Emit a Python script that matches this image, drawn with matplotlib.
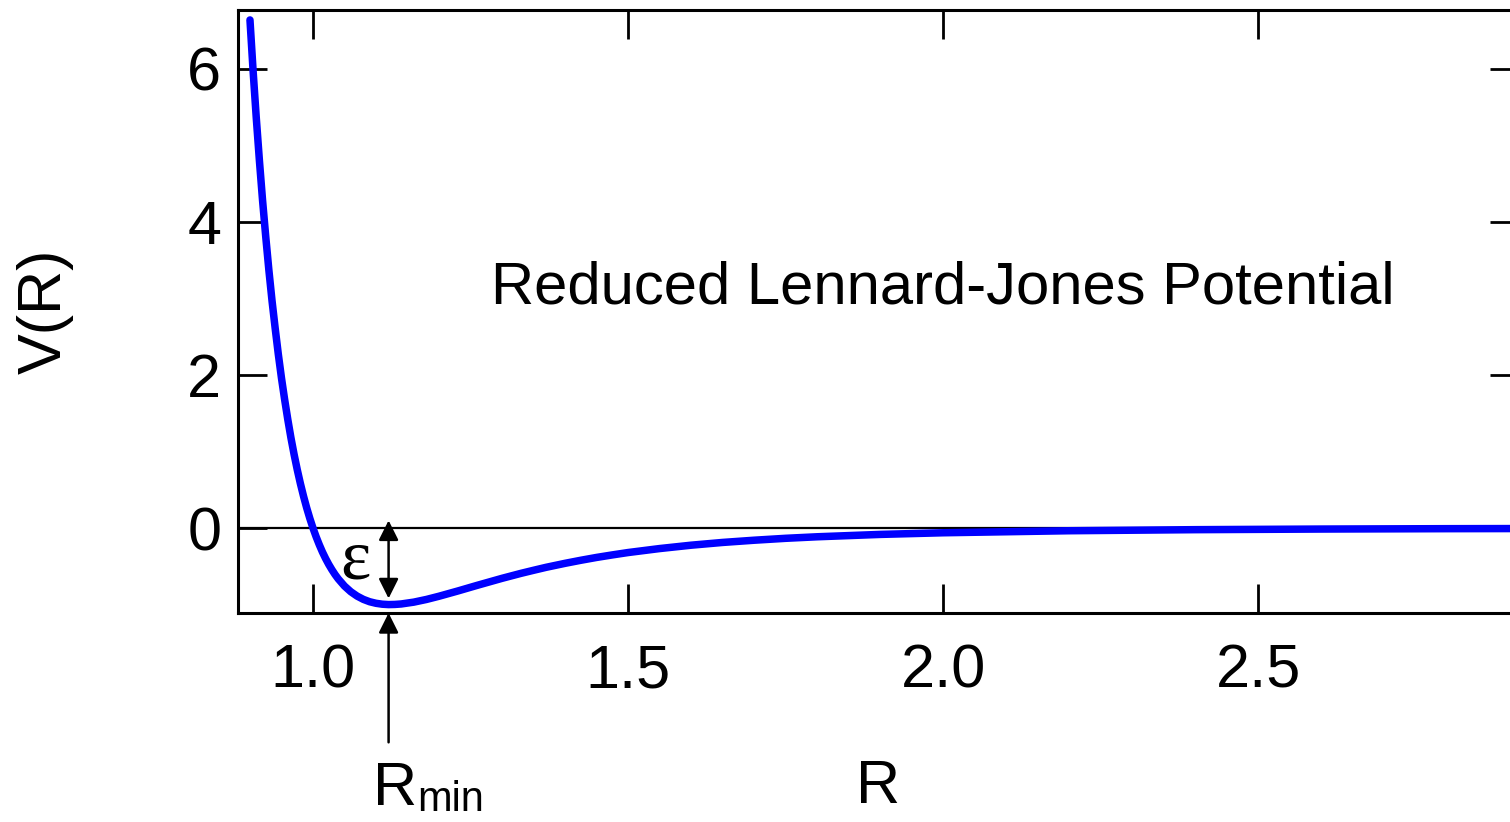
import matplotlib
matplotlib.use("Agg")
import matplotlib.pyplot as plt

plt.rcParams['font.family'] = ['Liberation Sans', 'DejaVu Sans']

# Curve
R = [0.900, 0.905, 0.910, 0.915, 0.920, 0.925, 0.930, 0.935, 0.940, 0.945,
     0.950, 0.955, 0.960, 0.965, 0.970, 0.975, 0.980, 0.985, 0.990, 0.995,
     1.000, 1.005, 1.010, 1.015, 1.020, 1.025, 1.030, 1.035, 1.040, 1.050,
     1.060, 1.070, 1.080, 1.090, 1.100, 1.110, 1.120, 1.130, 1.140, 1.160,
     1.180, 1.200, 1.230, 1.260, 1.300, 1.330, 1.350, 1.370, 1.400, 1.425,
     1.450, 1.475, 1.500, 1.550, 1.600, 1.650, 1.700, 1.750, 1.800, 1.900,
     2.000, 2.200, 2.400, 2.600, 2.800, 2.950]
V = [6.64, 5.97, 5.36, 4.80, 4.28, 3.81, 3.37, 2.97, 2.61, 2.27,
     1.96, 1.68, 1.42, 1.18, 0.963, 0.764, 0.582, 0.416, 0.264, 0.126,
     0.0, -0.114, -0.218, -0.313, -0.398, -0.475, -0.544, -0.607, -0.663, -0.758,
     -0.832, -0.889, -0.932, -0.963, -0.983, -0.995, -1.000, -0.998, -0.992, -0.968,
     -0.933, -0.891, -0.822, -0.750, -0.657, -0.592, -0.552, -0.513, -0.461, -0.421,
     -0.384, -0.351, -0.320, -0.268, -0.224, -0.188, -0.159, -0.134, -0.114, -0.083,
     -0.0615, -0.035, -0.021, -0.013, -0.008, -0.006]

x_ticks = [1.0, 1.5, 2.0, 2.5]
x_ticklabels = ["1.0", "1.5", "2.0", "2.5"]
y_ticks = [0, 2, 4, 6]
y_ticklabels = ["0", "2", "4", "6"]

R_min = 1.12
eps_depth = -1.0

title_text = "Reduced Lennard-Jones Potential"

fig = plt.figure(figsize=(15.10, 8.22), dpi=100)
ax = fig.add_axes([238/1510, 1-613/822, (1519-238)/1510, (613-10)/822])

ax.set_xlim(0.881, 2.914)
ax.set_ylim(-1.11, 6.77)

ax.axhline(0, color='black', lw=1.6, zorder=1)
ax.plot(R, V, color='#0000FF', lw=5.4, solid_capstyle='round',
        solid_joinstyle='round', zorder=3)

ax.set_xticks(x_ticks)
ax.set_xticklabels(x_ticklabels)
ax.set_yticks(y_ticks)
ax.set_yticklabels(y_ticklabels)
ax.tick_params(direction='in', length=21, width=2, labelsize=44,
               top=True, right=True, pad=12)
ax.tick_params(axis='x', pad=22)
for s in ax.spines.values():
    s.set_linewidth(2.2)

ax.set_xlabel("R", fontsize=44, labelpad=42)
ax.set_ylabel("V(R)", fontsize=44, labelpad=82)

ax.text(2.0, 2.94, title_text, fontsize=43, ha='center', va='baseline')

# epsilon double arrow
ax.annotate('', xy=(R_min, 0.1), xytext=(R_min, eps_depth + 0.08),
            arrowprops=dict(arrowstyle='<|-|>', color='black', lw=1.8,
                            mutation_scale=30, shrinkA=0, shrinkB=0))
ax.text(1.068, -0.43, 'ε', fontsize=52, family=['Liberation Serif', 'DejaVu Serif'],
        ha='center', va='center')

# R_min arrow below axis
ax.annotate('', xy=(R_min, -1.11), xycoords='data',
            xytext=(R_min, -2.80), textcoords='data',
            arrowprops=dict(arrowstyle='-|>', color='black', lw=1.8,
                            mutation_scale=30, shrinkA=0, shrinkB=0),
            annotation_clip=False)
ax.text(1.130, -3.62, 'R', fontsize=44, ha='center', va='baseline', clip_on=False)
ax.text(1.166, -3.70, 'min', fontsize=30, ha='left', va='baseline', clip_on=False)

fig.savefig('out.png', dpi=100)
